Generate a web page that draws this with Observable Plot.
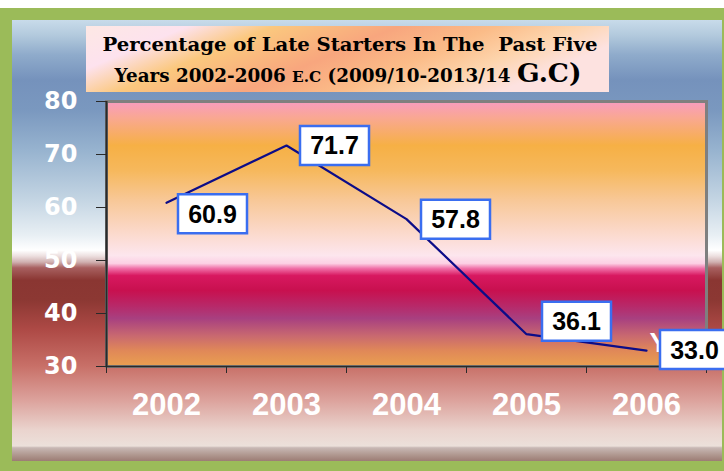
<!DOCTYPE html>
<html>
<head>
<meta charset="utf-8">
<script src="https://cdn.jsdelivr.net/npm/d3@7"></script>
<script src="https://cdn.jsdelivr.net/npm/@observablehq/plot@0.6"></script>
<style>
  html, body { margin: 0; padding: 0; background: #ffffff; }
  svg { display: block; }
</style>
</head>
<body>
<div id="chart"></div>
<script>
// ---- Data ----
const years = [2002, 2003, 2004, 2005, 2006];
const lateStarters = [60.9, 71.7, 57.8, 36.1, 33.0];
const yTicks = [30, 40, 50, 60, 70, 80];
const titleLine1 = "Percentage of Late Starters In The  Past Five";
const titleLine2Parts = ["Years 2002-2006 ", "E.C", " (2009/10-2013/14 ", "G.C)"];

const data = years.map((year, i) => ({year, value: lateStarters[i]}));
const bandEdges = [years[0] - 0.5, ...years.map(y => y + 0.5)];

// label box placement (pixel offsets, Excel-like "right" placement)
const labelOffsets = [[46, 11], [48, 0], [49, 0], [50, -13], [48, -1]];
const boxSymbol = {draw(ctx) { ctx.rect(-34.5, -19.5, 69, 39); }};

const labelMarks = data.flatMap((d, i) => [
  Plot.dot([d], {x: "year", y: "value", symbol: boxSymbol, r: 10, fill: "white",
    stroke: "#3a6ef0", strokeWidth: 2.5, dx: labelOffsets[i][0], dy: labelOffsets[i][1]}),
  Plot.text([d], {x: "year", y: "value", text: v => v.value.toFixed(1), fill: "black",
    fontSize: 25, fontWeight: "bold", fontFamily: "Liberation Sans, Arial, sans-serif",
    dx: labelOffsets[i][0], dy: labelOffsets[i][1] + 1})
]);

const svg = Plot.plot({
  width: 724,
  height: 471,
  marginLeft: 106,
  marginRight: 18,
  marginTop: 101,
  marginBottom: 105,
  style: {background: "transparent", overflow: "hidden"},
  x: {type: "linear", domain: [bandEdges[0], bandEdges[bandEdges.length - 1]]},
  y: {domain: [30, 80]},
  marks: [
    Plot.frame({fill: "url(#plotBg)", stroke: "#7f7f7f", strokeWidth: 3}),
    Plot.ruleX([bandEdges[0]], {stroke: "#2a2a2a", strokeWidth: 2}),
    Plot.ruleY([30], {stroke: "#2a2a2a", strokeWidth: 1.5}),
    Plot.axisY({ticks: yTicks, tickSize: 10, tickPadding: 19, label: null,
      stroke: "#2a2a2a", fill: "white", fontSize: 24, fontWeight: "bold",
      fontFamily: "DejaVu Sans, sans-serif", tickFormat: d => String(d)}),
    Plot.axisX({ticks: bandEdges, tickSize: 7, tickFormat: () => "", label: null,
      stroke: "#2a2a2a"}),
    Plot.axisX({ticks: years, tickSize: 0, tickPadding: 26, label: null,
      fill: "white", fontSize: 31, fontWeight: "bold",
      fontFamily: "Liberation Sans, Arial, sans-serif", tickFormat: d => String(d)}),
    Plot.line(data, {x: "year", y: "value", stroke: "#0c0c88", strokeWidth: 2.2}),
    Plot.text(["Years"], {frameAnchor: "bottom-right", text: d => d, dx: -57, dy: -15,
      textAnchor: "start", fill: "white", fontSize: 28, fontWeight: "bold",
      fontFamily: "Liberation Sans, Arial, sans-serif"}),
    ...labelMarks
  ]
});

document.getElementById("chart").appendChild(svg);

// ---- Decoration: gradients, border, title ----
const s = d3.select(svg);
const defs = s.insert("defs", ":first-child");

function vGrad(id, stops) {
  const g = defs.append("linearGradient").attr("id", id)
    .attr("x1", 0).attr("y1", 0).attr("x2", 0).attr("y2", 1);
  stops.forEach(([o, c]) => g.append("stop").attr("offset", o).attr("stop-color", c));
}
vGrad("plotBg", [
  [0, "#f89cc0"], [0.064, "#f9a890"], [0.166, "#f6b045"], [0.26, "#f6b85c"],
  [0.374, "#f8c898"], [0.487, "#fbd8c8"], [0.581, "#fde6ee"], [0.611, "#fcd0e4"],
  [0.63, "#f070a8"], [0.657, "#d81860"], [0.713, "#c8104f"], [0.77, "#b82868"],
  [0.819, "#a84080"], [0.883, "#c86870"], [0.94, "#e08858"], [1, "#eaa050"]
]);
vGrad("outerBg", [
  [0, "#c8dbea"], [0.034, "#b3cadd"], [0.079, "#8fabcb"], [0.136, "#7592bc"],
  [0.204, "#7a98bf"], [0.295, "#97b3cf"], [0.408, "#c4d5e3"], [0.488, "#e8eff4"],
  [0.522, "#ffffff"], [0.535, "#ede0e0"], [0.549, "#d0b0b0"], [0.562, "#a86060"],
  [0.59, "#8a3632"], [0.635, "#8c3833"], [0.703, "#ae4a46"], [0.785, "#c87068"],
  [0.862, "#dca29c"], [0.93, "#ead4ce"], [0.966, "#ece0da"], [0.97, "#c8b8b4"],
  [0.986, "#b09890"], [1, "#9c7c74"]
]);
const tg = defs.append("linearGradient").attr("id", "titleBg")
  .attr("x1", 0).attr("y1", 0).attr("x2", 1).attr("y2", 0.3);
[[0, "#fde8e4"], [0.18, "#fde2ee"], [0.33, "#fbc87e"], [0.55, "#f8a67e"],
 [0.72, "#fbbc88"], [0.86, "#fdd4ac"], [1, "#fde2e0"]]
  .forEach(([o, c]) => tg.append("stop").attr("offset", o).attr("stop-color", c));

// background layers inserted right after defs
const bg = s.insert("g", "defs + *");
bg.append("rect").attr("x", 0).attr("y", 0).attr("width", 724).attr("height", 471).attr("fill", "#ffffff");
bg.append("rect").attr("x", 0).attr("y", 8).attr("width", 724).attr("height", 463).attr("fill", "#9bbb59");
bg.append("rect").attr("x", 12).attr("y", 20).attr("width", 710).attr("height", 441).attr("fill", "url(#outerBg)");

// title box
const tgroup = s.append("g");
tgroup.append("rect").attr("x", 86).attr("y", 26).attr("width", 523).attr("height", 66)
  .attr("fill", "url(#titleBg)");
tgroup.append("text").attr("x", 350).attr("y", 51).attr("text-anchor", "middle")
  .attr("font-family", "DejaVu Serif, serif").attr("font-weight", "bold").attr("font-size", 18)
  .attr("textLength", 495).attr("lengthAdjust", "spacingAndGlyphs")
  .style("white-space", "pre").attr("fill", "#000").text(titleLine1);
const t2 = tgroup.append("text").attr("x", 348).attr("y", 82).attr("text-anchor", "middle")
  .attr("font-family", "DejaVu Serif, serif").attr("font-weight", "bold").attr("font-size", 18)
  .attr("textLength", 467).attr("lengthAdjust", "spacingAndGlyphs")
  .style("white-space", "pre").attr("fill", "#000");
const sizes = [18, 15, 18, 26];
titleLine2Parts.forEach((p, i) => t2.append("tspan").attr("font-size", sizes[i]).text(p));
</script>
</body>
</html>
